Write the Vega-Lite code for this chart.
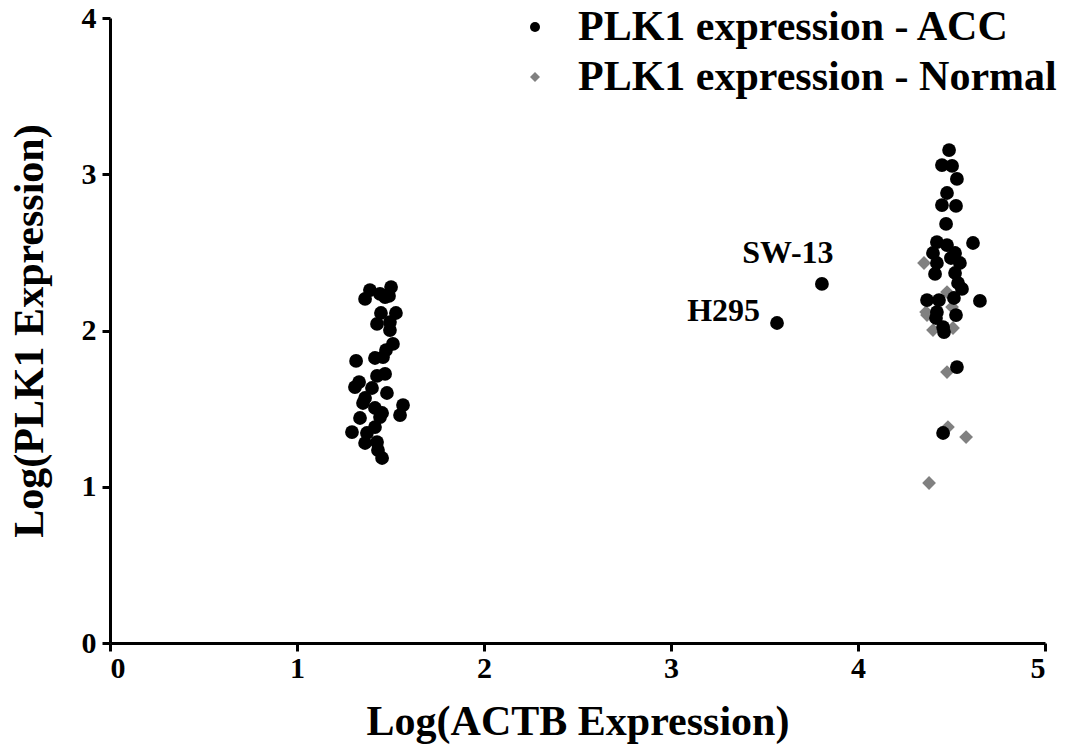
{
  "$schema": "https://vega.github.io/schema/vega-lite/v6.json",
  "width": 935,
  "height": 625,
  "autosize": "none",
  "padding": {"left": 110, "top": 18, "right": 26, "bottom": 107},
  "background": "white",
  "config": {
    "view": {"stroke": null},
    "font": "Liberation Serif",
    "axis": {
      "grid": false,
      "domainColor": "black",
      "domainWidth": 3,
      "tickColor": "black",
      "tickWidth": 3,
      "tickSize": 8,
      "labelFont": "Liberation Serif",
      "labelFontWeight": "bold",
      "labelFontSize": 30,
      "labelColor": "black",
      "titleFont": "Liberation Serif",
      "titleFontWeight": "bold",
      "titleFontSize": 42,
      "titleColor": "black"
    }
  },
  "data": {
    "values": [
      {"x": 4.353, "y": 2.432, "group": "PLK1 expression - Normal"},
      {"x": 4.476, "y": 2.246, "group": "PLK1 expression - Normal"},
      {"x": 4.503, "y": 2.150, "group": "PLK1 expression - Normal"},
      {"x": 4.364, "y": 2.118, "group": "PLK1 expression - Normal"},
      {"x": 4.369, "y": 2.099, "group": "PLK1 expression - Normal"},
      {"x": 4.401, "y": 2.003, "group": "PLK1 expression - Normal"},
      {"x": 4.508, "y": 2.016, "group": "PLK1 expression - Normal"},
      {"x": 4.476, "y": 1.734, "group": "PLK1 expression - Normal"},
      {"x": 4.481, "y": 1.382, "group": "PLK1 expression - Normal"},
      {"x": 4.578, "y": 1.318, "group": "PLK1 expression - Normal"},
      {"x": 4.380, "y": 1.024, "group": "PLK1 expression - Normal"},
      {"x": 1.390, "y": 2.259, "group": "PLK1 expression - ACC"},
      {"x": 1.364, "y": 2.202, "group": "PLK1 expression - ACC"},
      {"x": 1.444, "y": 2.234, "group": "PLK1 expression - ACC"},
      {"x": 1.471, "y": 2.214, "group": "PLK1 expression - ACC"},
      {"x": 1.503, "y": 2.278, "group": "PLK1 expression - ACC"},
      {"x": 1.492, "y": 2.221, "group": "PLK1 expression - ACC"},
      {"x": 1.449, "y": 2.112, "group": "PLK1 expression - ACC"},
      {"x": 1.529, "y": 2.112, "group": "PLK1 expression - ACC"},
      {"x": 1.428, "y": 2.042, "group": "PLK1 expression - ACC"},
      {"x": 1.497, "y": 2.054, "group": "PLK1 expression - ACC"},
      {"x": 1.497, "y": 2.003, "group": "PLK1 expression - ACC"},
      {"x": 1.513, "y": 1.914, "group": "PLK1 expression - ACC"},
      {"x": 1.476, "y": 1.875, "group": "PLK1 expression - ACC"},
      {"x": 1.460, "y": 1.830, "group": "PLK1 expression - ACC"},
      {"x": 1.417, "y": 1.824, "group": "PLK1 expression - ACC"},
      {"x": 1.316, "y": 1.805, "group": "PLK1 expression - ACC"},
      {"x": 1.471, "y": 1.722, "group": "PLK1 expression - ACC"},
      {"x": 1.428, "y": 1.709, "group": "PLK1 expression - ACC"},
      {"x": 1.332, "y": 1.670, "group": "PLK1 expression - ACC"},
      {"x": 1.310, "y": 1.638, "group": "PLK1 expression - ACC"},
      {"x": 1.401, "y": 1.632, "group": "PLK1 expression - ACC"},
      {"x": 1.481, "y": 1.600, "group": "PLK1 expression - ACC"},
      {"x": 1.364, "y": 1.568, "group": "PLK1 expression - ACC"},
      {"x": 1.353, "y": 1.536, "group": "PLK1 expression - ACC"},
      {"x": 1.417, "y": 1.504, "group": "PLK1 expression - ACC"},
      {"x": 1.455, "y": 1.472, "group": "PLK1 expression - ACC"},
      {"x": 1.567, "y": 1.523, "group": "PLK1 expression - ACC"},
      {"x": 1.551, "y": 1.459, "group": "PLK1 expression - ACC"},
      {"x": 1.337, "y": 1.440, "group": "PLK1 expression - ACC"},
      {"x": 1.444, "y": 1.446, "group": "PLK1 expression - ACC"},
      {"x": 1.294, "y": 1.350, "group": "PLK1 expression - ACC"},
      {"x": 1.374, "y": 1.344, "group": "PLK1 expression - ACC"},
      {"x": 1.417, "y": 1.382, "group": "PLK1 expression - ACC"},
      {"x": 1.364, "y": 1.280, "group": "PLK1 expression - ACC"},
      {"x": 1.428, "y": 1.286, "group": "PLK1 expression - ACC"},
      {"x": 1.433, "y": 1.235, "group": "PLK1 expression - ACC"},
      {"x": 1.455, "y": 1.184, "group": "PLK1 expression - ACC"},
      {"x": 3.807, "y": 2.298, "group": "PLK1 expression - ACC", "label": "SW-13"},
      {"x": 3.567, "y": 2.048, "group": "PLK1 expression - ACC", "label": "H295"},
      {"x": 4.487, "y": 3.155, "group": "PLK1 expression - ACC"},
      {"x": 4.449, "y": 3.059, "group": "PLK1 expression - ACC"},
      {"x": 4.503, "y": 3.053, "group": "PLK1 expression - ACC"},
      {"x": 4.529, "y": 2.970, "group": "PLK1 expression - ACC"},
      {"x": 4.476, "y": 2.880, "group": "PLK1 expression - ACC"},
      {"x": 4.449, "y": 2.803, "group": "PLK1 expression - ACC"},
      {"x": 4.524, "y": 2.797, "group": "PLK1 expression - ACC"},
      {"x": 4.471, "y": 2.682, "group": "PLK1 expression - ACC"},
      {"x": 4.422, "y": 2.566, "group": "PLK1 expression - ACC"},
      {"x": 4.476, "y": 2.547, "group": "PLK1 expression - ACC"},
      {"x": 4.615, "y": 2.560, "group": "PLK1 expression - ACC"},
      {"x": 4.401, "y": 2.496, "group": "PLK1 expression - ACC"},
      {"x": 4.519, "y": 2.496, "group": "PLK1 expression - ACC"},
      {"x": 4.422, "y": 2.432, "group": "PLK1 expression - ACC"},
      {"x": 4.497, "y": 2.464, "group": "PLK1 expression - ACC"},
      {"x": 4.545, "y": 2.432, "group": "PLK1 expression - ACC"},
      {"x": 4.412, "y": 2.362, "group": "PLK1 expression - ACC"},
      {"x": 4.519, "y": 2.368, "group": "PLK1 expression - ACC"},
      {"x": 4.535, "y": 2.304, "group": "PLK1 expression - ACC"},
      {"x": 4.556, "y": 2.266, "group": "PLK1 expression - ACC"},
      {"x": 4.369, "y": 2.195, "group": "PLK1 expression - ACC"},
      {"x": 4.433, "y": 2.195, "group": "PLK1 expression - ACC"},
      {"x": 4.513, "y": 2.208, "group": "PLK1 expression - ACC"},
      {"x": 4.652, "y": 2.189, "group": "PLK1 expression - ACC"},
      {"x": 4.422, "y": 2.118, "group": "PLK1 expression - ACC"},
      {"x": 4.524, "y": 2.099, "group": "PLK1 expression - ACC"},
      {"x": 4.417, "y": 2.080, "group": "PLK1 expression - ACC"},
      {"x": 4.455, "y": 2.022, "group": "PLK1 expression - ACC"},
      {"x": 4.460, "y": 1.990, "group": "PLK1 expression - ACC"},
      {"x": 4.529, "y": 1.766, "group": "PLK1 expression - ACC"},
      {"x": 4.455, "y": 1.344, "group": "PLK1 expression - ACC"}
    ]
  },
  "encoding": {
    "x": {
      "field": "x",
      "type": "quantitative",
      "scale": {"domain": [0, 5], "nice": false, "zero": false},
      "axis": {"values": [0, 1, 2, 3, 4, 5], "title": "Log(ACTB Expression)", "titlePadding": 18, "labelPadding": 2}
    },
    "y": {
      "field": "y",
      "type": "quantitative",
      "scale": {"domain": [0, 4], "nice": false, "zero": false},
      "axis": {"values": [0, 1, 2, 3, 4], "title": "Log(PLK1 Expression)", "titlePadding": 30, "labelPadding": 6}
    }
  },
  "layer": [
    {
      "mark": {"type": "point", "filled": true, "opacity": 1, "size": 190, "strokeWidth": 0},
      "encoding": {
        "color": {
          "field": "group",
          "type": "nominal",
          "scale": {"domain": ["PLK1 expression - ACC", "PLK1 expression - Normal"], "range": ["black", "#808080"]},
          "legend": {
            "title": null,
            "orient": "none",
            "legendX": 404,
            "legendY": -12,
            "labelFont": "Liberation Serif",
            "labelFontWeight": "bold",
            "labelFontSize": 42,
            "labelColor": "black",
            "labelLimit": 700,
            "labelOffset": 22,
            "symbolSize": 100,
            "rowPadding": 8,
            "symbolStrokeWidth": 0
          }
        },
        "shape": {
          "field": "group",
          "type": "nominal",
          "scale": {"domain": ["PLK1 expression - ACC", "PLK1 expression - Normal"], "range": ["circle", "diamond"]}
        }
      }
    },
    {
      "transform": [{"filter": "datum.label == 'SW-13'"}],
      "mark": {"type": "text", "font": "Liberation Serif", "fontWeight": "bold", "fontSize": 32, "align": "center", "dx": -34, "dy": -31, "color": "black"},
      "encoding": {"text": {"field": "label"}}
    },
    {
      "transform": [{"filter": "datum.label == 'H295'"}],
      "mark": {"type": "text", "font": "Liberation Serif", "fontWeight": "bold", "fontSize": 32, "align": "right", "dx": -17, "dy": -12, "color": "black"},
      "encoding": {"text": {"field": "label"}}
    }
  ]
}
